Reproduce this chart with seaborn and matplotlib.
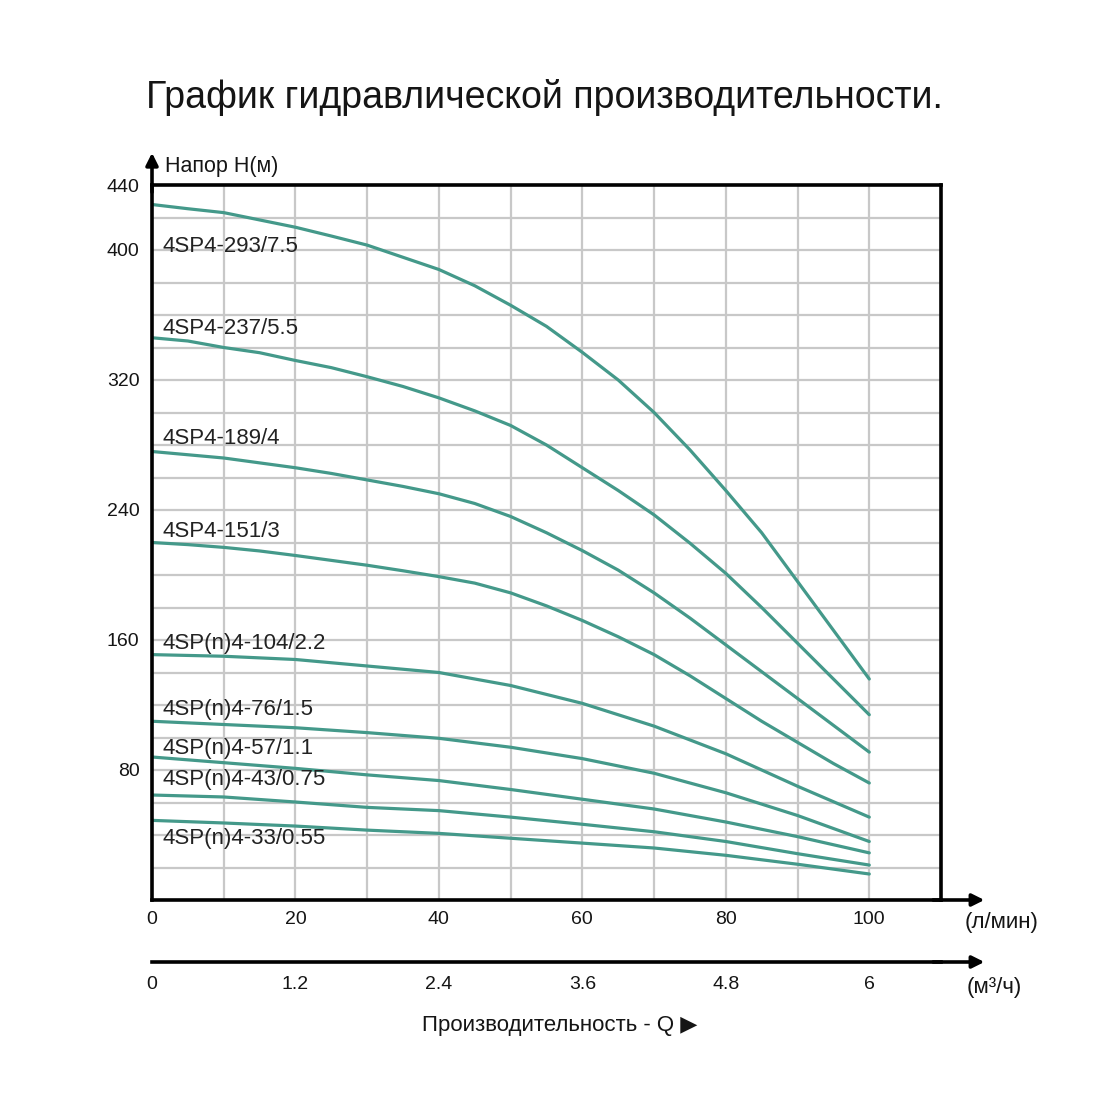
import matplotlib
matplotlib.use("Agg")
import matplotlib.pyplot as plt
import seaborn as sns
import pandas as pd
import numpy as np

# ---------------- data ----------------
flow_fine = [0, 5, 10, 15, 20, 25, 30, 35, 40, 45, 50,
             55, 60, 65, 70, 75, 80, 85, 90, 95, 100]
flow_lpm = [0, 10, 20, 30, 40, 50, 60, 70, 80, 90, 100]
models = ["4SP4-293/7.5", "4SP4-237/5.5", "4SP4-189/4", "4SP4-151/3",
          "4SP(n)4-104/2.2", "4SP(n)4-76/1.5", "4SP(n)4-57/1.1",
          "4SP(n)4-43/0.75", "4SP(n)4-33/0.55"]
head_293 = [428, 425.4, 423, 418.5, 414, 408.6, 403, 395.5, 388, 378, 366,
            353, 337, 320, 300, 277, 252, 226, 196, 166, 136]
head_237 = [346, 344, 340, 336.8, 332, 327.6, 322, 316, 309, 301, 292,
            280, 266, 252, 237, 219.6, 201, 180, 158, 136, 114]
head_189 = [276, 274, 272, 269, 266, 262.5, 258.5, 254.5, 250, 244, 236,
            226, 215, 203, 189, 173.5, 157, 140.5, 124, 107.5, 91]
head_151 = [220, 218.7, 217, 214.8, 212, 209, 206, 202.6, 199, 195, 189,
            181, 172, 162, 151, 138, 124, 110, 97, 84, 72]
head_104 = [151, 150, 148, 144, 140, 132, 121, 107, 90, 70, 51]
head_76 = [110, 108, 106, 103, 99.5, 94, 87, 78, 66, 52, 36]
head_57 = [88, 84.5, 81, 77, 73.5, 68, 62, 56, 48, 39, 29]
head_43 = [64.6, 63.4, 60.3, 57, 55, 51, 46.6, 42, 36, 28.5, 21.5]
head_33 = [49, 47.4, 45.5, 43, 41, 38, 35, 32, 27.5, 22, 16]
heads = [head_293, head_237, head_189, head_151, head_104,
         head_76, head_57, head_43, head_33]
flows = [flow_fine] * 4 + [flow_lpm] * 5
label_y = [402, 352, 284, 227, 158, 117, 93, 74, 38]

x_major = [0, 20, 40, 60, 80, 100]
x_major_labels = ["0", "20", "40", "60", "80", "100"]
m3h_ticks = [0, 1.2, 2.4, 3.6, 4.8, 6]
m3h_labels = ["0", "1.2", "2.4", "3.6", "4.8", "6"]
y_major = [80, 160, 240, 320, 400, 440]
y_major_labels = ["80", "160", "240", "320", "400", "440"]

title = "График гидравлической производительности."
ylabel = "Напор H(м)"
xunit1 = "(л/мин)"
xunit2 = "(м³/ч)"
xlabel = "Производительность - Q ▶"

df = pd.concat([pd.DataFrame({"flow": f, "head": h, "model": m})
                for m, f, h in zip(models, flows, heads)], ignore_index=True)

# ---------------- style ----------------
sns.set_theme(style="white")
plt.rcParams["font.family"] = ["Liberation Sans", "DejaVu Sans"]
curve_color = "#44998a"
grid_color = "#c8c8c8"
text_color = "#151515"

fig = plt.figure(figsize=(11, 11), dpi=100)
fig.patch.set_facecolor("white")
ax = fig.add_axes([152 / 1100, 1 - 900 / 1100, 789 / 1100, 715 / 1100])

sns.lineplot(data=df, x="flow", y="head", hue="model", hue_order=models,
             palette=[curve_color] * len(models), legend=False, ax=ax,
             linewidth=2.3, sort=True)
for ln in ax.get_lines():
    ln.set_solid_joinstyle("round")

ax.set_xlim(0, 110)
ax.set_ylim(0, 440)
ax.set_xticks(x_major)
ax.set_xticklabels(x_major_labels)
ax.set_xticks(np.arange(0, 111, 10), minor=True)
ax.set_yticks(y_major)
ax.set_yticklabels(y_major_labels)
ax.set_yticks(np.arange(0, 441, 20), minor=True)
ax.grid(which="both", color=grid_color, linewidth=1.6)
ax.set_axisbelow(True)
ax.tick_params(which="both", length=0, labelsize=14, colors=text_color)
ax.tick_params(axis="x", pad=8)
ax.tick_params(axis="y", pad=9)
ax.set_xlabel("")
ax.set_ylabel("")
for s in ax.spines.values():
    s.set_visible(True)
    s.set_color("black")
    s.set_linewidth(2.6)

for m, y in zip(models, label_y):
    ax.text(1.5, y, m, fontsize=16, color="#222222", va="center", ha="left")

# secondary flow axis in m3/h
sec_loc = -62 / 715
sec = ax.secondary_xaxis(sec_loc, functions=(lambda q: q * 0.06, lambda q: q / 0.06))
sec.set_xticks(m3h_ticks)
sec.set_xticklabels(m3h_labels)
sec.tick_params(length=0, labelsize=14, pad=10, colors=text_color)
sec.spines["bottom"].set_linewidth(2.6)
sec.spines["bottom"].set_color("black")

arrow = dict(arrowstyle="-|>", color="black", lw=2.6, mutation_scale=18,
             shrinkA=0, shrinkB=0)
ax.annotate("", xy=(0, 1.045), xytext=(0, 0.99), xycoords="axes fraction",
            arrowprops=arrow, annotation_clip=False)
ax.annotate("", xy=(1.055, 0), xytext=(0.99, 0), xycoords="axes fraction",
            arrowprops=arrow, annotation_clip=False)
ax.annotate("", xy=(1.055, sec_loc), xytext=(0.99, sec_loc), xycoords="axes fraction",
            arrowprops=arrow, annotation_clip=False)

ax.text(0.017, 1.026, ylabel, transform=ax.transAxes, fontsize=15.5,
        ha="left", va="center", color=text_color)
ax.text(1.077, -0.031, xunit1, transform=ax.transAxes, fontsize=16,
        ha="center", va="center", color=text_color)
ax.text(1.068, -0.122, xunit2, transform=ax.transAxes, fontsize=16,
        ha="center", va="center", color=text_color)
ax.text(0.517, -0.176, xlabel, transform=ax.transAxes, fontsize=16,
        ha="center", va="center", color=text_color)

fig.text(0.495, 1 - 97 / 1100, title, fontsize=27, ha="center", va="center",
         color=text_color)

fig.savefig("out.png", dpi=100, facecolor="white")
